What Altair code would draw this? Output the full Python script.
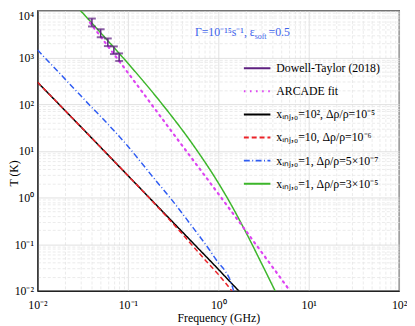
import altair as alt
import pandas as pd

# ---- data ----
series_names = [
    "Dowell-Taylor (2018)",
    "ARCADE fit",
    "xᵢₙⱼ,₀=10²,  Δρ/ρ=10⁻⁵",
    "xᵢₙⱼ,₀=10, Δρ/ρ=10⁻⁶",
    "xᵢₙⱼ,₀=1, Δρ/ρ=5×10⁻⁷",
    "xᵢₙⱼ,₀=1, Δρ/ρ=3×10⁻⁵",
]
series_colors = ["#5e2080", "#dd44f2", "#000000", "#ec2228", "#2f5cf2", "#3cb62a"]
series_dashes = [[1, 0], [1.6, 4.6], [1, 0], [5, 3], [6, 2.5, 1, 2.5], [1, 0]]

freq_black = [0.01, 0.03, 0.1, 0.3, 0.6, 1.0, 1.4, 1.7]
temp_black = [295, 33, 2.95, 0.325, 0.081, 0.029, 0.0145, 0.0098]

freq_red = [0.01, 0.03, 0.1, 0.2, 0.4, 0.7, 1.0, 1.2, 1.45]
temp_red = [295, 33, 2.95, 0.72, 0.165, 0.048, 0.0225, 0.0148, 0.0093]

freq_blue = [0.01, 0.03, 0.1, 0.2, 0.3, 0.53, 0.8, 1.0, 1.2, 1.35, 1.5]
temp_blue = [1450, 152, 12.5, 2.4, 0.93, 0.22, 0.075, 0.040, 0.026, 0.017, 0.009]

freq_green = [0.028, 0.04, 0.0845, 0.1, 0.23, 0.53, 0.95, 1.33, 2.0, 3.0, 4.3]
temp_green = [11560, 5430, 1086, 750, 110, 13.1, 2.41, 0.807, 0.186, 0.039, 0.0095]

freq_arcade = [0.038, 0.1, 0.3, 1.0, 3.0, 6.2]
temp_arcade = [5600, 470, 27, 1.2, 0.068, 0.01]

freq_dt = [0.04, 0.05, 0.06, 0.07, 0.08]
temp_dt_lo = [4600, 2700, 1750, 1180, 840]
temp_dt_hi = [6800, 4000, 2550, 1720, 1220]

x_tick_labels = ["10⁻²", "10⁻¹", "10⁰", "10¹", "10²"]
y_tick_labels = ["10⁻²", "10⁻¹", "10⁰", "10¹", "10²", "10³", "10⁴"]

annot_x = [2.53]
annot_y = [3460]
annot_main = "Γ=10⁻¹⁵s⁻¹, ε"
annot_sub = "soft"
annot_tail = "=0.5"

# ---- build tables ----
rows = []
for name, fr, tt in [
    (series_names[2], freq_black, temp_black),
    (series_names[3], freq_red, temp_red),
    (series_names[4], freq_blue, temp_blue),
    (series_names[5], freq_green, temp_green),
]:
    for f, t in zip(fr, tt):
        rows.append({"series": name, "freq": f, "T": t})
df_lines = pd.DataFrame(rows)
df_arcade = pd.DataFrame({"series": series_names[1], "freq": freq_arcade, "T": temp_arcade})
df_dt = pd.DataFrame({"freq": freq_dt, "lo": temp_dt_lo, "hi": temp_dt_hi})
df_annot = pd.DataFrame({"freq": annot_x, "T": annot_y})


def minor_vals(lo_exp, hi_exp):
    vals = []
    for e in range(lo_exp, hi_exp):
        for m in range(1, 10):
            vals.append(round(m * 10 ** e, 12))
    vals.append(10 ** hi_exp)
    return vals


x_vals = minor_vals(-2, 2)
y_vals = minor_vals(-2, 4)

dec_test = "abs(log(datum.value)/LN10 - round(log(datum.value)/LN10)) < 1e-6"


def label_expr(labels, offset):
    arr = "[" + ",".join("'" + s + "'" for s in labels) + "]"
    return f"{dec_test} ? {arr}[round(log(datum.value)/LN10)+{offset}] : ''"


FONT = "Liberation Serif"

def make_axis(title, vals, labels, offset, **kw):
    return alt.Axis(
        title=title,
        values=vals,
        labelExpr=label_expr(labels, offset),
        labelOverlap=False,
        labelFlush=False,
        labelBound=False,
        ticks=False,
        grid=True,
        gridColor={"condition": {"test": dec_test, "value": "#d9d9d9"}, "value": "#e6e6e6"},
        gridDash={"condition": {"test": dec_test, "value": []}, "value": [3, 2]},
        gridWidth=0.8,
        domainColor="#222222",
        domainWidth=1.3,
        labelFont=FONT,
        labelFontSize=12,
        labelColor="black",
        titleFont=FONT,
        titleFontSize=12,
        titleFontWeight="normal",
        titleColor="black",
        **kw,
    )


x_enc = alt.X(
    "freq:Q",
    scale=alt.Scale(type="log", domain=[0.01, 100], nice=False),
    axis=make_axis("Frequency (GHz)", x_vals, x_tick_labels, 2, labelPadding=9, titlePadding=2),
)
y_enc = alt.Y(
    "T:Q",
    scale=alt.Scale(type="log", domain=[0.01, 10000], nice=False),
    axis=make_axis(
        "T (K)", y_vals, y_tick_labels, 2, labelPadding=4,
        labelBaseline={"condition": {"test": "datum.value > 5000", "value": "top"}, "value": "middle"},
        titleX=-24, titleY=165, titleBaseline="middle", titleAlign="center", titleAngle=270,
    ),
)

legend = alt.Legend(
    title=None,
    orient="none",
    legendX=209,
    legendY=44,
    symbolType="stroke",
    symbolSize=729,
    symbolStrokeWidth=2,
    labelFont=FONT,
    labelFontSize=12,
    labelColor="black",
    labelOffset=5,
    rowPadding=2.5,
    padding=0,
    gridAlign="all",
)
color_enc = alt.Color(
    "series:N",
    scale=alt.Scale(domain=series_names, range=series_colors),
    legend=legend,
)
dash_enc = alt.StrokeDash(
    "series:N",
    scale=alt.Scale(domain=series_names, range=series_dashes),
    legend=legend,
)

lines = alt.Chart(df_lines).mark_line(clip=True, strokeWidth=1.5, interpolate="monotone").encode(
    x=x_enc, y=y_enc, color=color_enc, strokeDash=dash_enc, detail="series:N"
)
arcade = alt.Chart(df_arcade).mark_line(clip=True, strokeWidth=2.2, strokeCap="round", interpolate="monotone").encode(
    x=x_enc, y=y_enc, color=color_enc, strokeDash=dash_enc
)
dt_rule = alt.Chart(df_dt).mark_rule(color=series_colors[0], strokeWidth=1.5).encode(
    x="freq:Q", y="lo:Q", y2="hi:Q"
)
dt_lo = alt.Chart(df_dt).mark_tick(color=series_colors[0], orient="horizontal", size=8, thickness=2).encode(
    x="freq:Q", y="lo:Q"
)
dt_hi = alt.Chart(df_dt).mark_tick(color=series_colors[0], orient="horizontal", size=8, thickness=2).encode(
    x="freq:Q", y="hi:Q"
)

annot_color = "#3d63ec"
t1 = alt.Chart(df_annot).mark_text(text=annot_main, align="right", baseline="middle", font=FONT, fontSize=12, color=annot_color).encode(x="freq:Q", y="T:Q")
t2 = alt.Chart(df_annot).mark_text(text=annot_sub, align="left", baseline="middle", dy=5, dx=0, font=FONT, fontSize=8, color=annot_color).encode(x="freq:Q", y="T:Q")
t3 = alt.Chart(df_annot).mark_text(text=annot_tail, align="left", baseline="middle", dx=14, font=FONT, fontSize=12, color=annot_color).encode(x="freq:Q", y="T:Q")

chart = (
    alt.layer(lines, arcade, dt_rule, dt_lo, dt_hi, t1, t2, t3)
    .properties(
        width=368,
        height=285,
        autosize=alt.AutoSizeParams(type="none"),
        padding={"left": 30, "top": 0, "right": 8, "bottom": 33},
    )
    .configure(font=FONT)
    .configure_legend(labelFont=FONT)
    .configure_view(stroke="#222222", strokeWidth=1.3)
)

chart.save("out.html", embed_options={"renderer": "svg", "actions": False})
